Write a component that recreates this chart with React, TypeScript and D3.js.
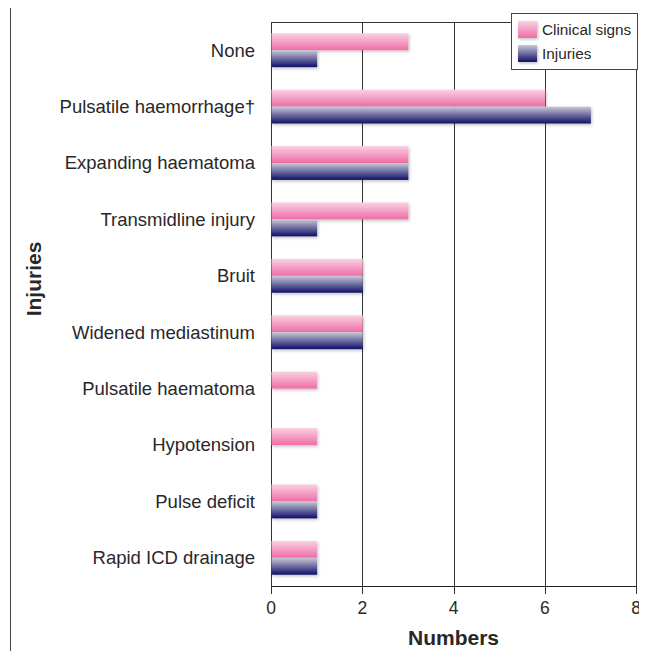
import React, { useRef, useEffect } from 'react';
import * as d3 from 'd3';

const categories = [
  'None',
  'Pulsatile haemorrhage†',
  'Expanding haematoma',
  'Transmidline injury',
  'Bruit',
  'Widened mediastinum',
  'Pulsatile haematoma',
  'Hypotension',
  'Pulse deficit',
  'Rapid ICD drainage',
];
const clinicalSigns = [3, 6, 3, 3, 2, 2, 1, 1, 1, 1];
const injuries = [1, 7, 3, 1, 2, 2, 0, 0, 1, 1];
const xTicks = [0, 2, 4, 6, 8];
const seriesNames = ['Clinical signs', 'Injuries'];

const W = 647;
const H = 659;
const FONT = 'Liberation Sans, Arial, Helvetica, sans-serif';
const TEXT = '#2a2728';

export default function App() {
  const svgRef = useRef<SVGSVGElement>(null);

  useEffect(() => {
    if (!svgRef.current) return;
    const svg = d3.select(svgRef.current);
    svg.selectAll('*').remove();

    const margin = { top: 22, right: 11, bottom: 73, left: 271 };
    const x = d3.scaleLinear().domain([0, 8]).range([margin.left, W - margin.right]);
    const y = d3.scaleBand<string>()
      .domain(categories)
      .range([margin.top, H - margin.bottom])
      .paddingInner(0.4)
      .paddingOuter(0.2);
    const sub = d3.scaleBand<string>().domain(seriesNames).range([0, y.bandwidth()]);

    const defs = svg.append('defs');
    const pink = defs.append('linearGradient').attr('id', 'gPink')
      .attr('x1', 0).attr('y1', 0).attr('x2', 0).attr('y2', 1);
    pink.append('stop').attr('offset', '0%').attr('stop-color', '#fad0e2');
    pink.append('stop').attr('offset', '100%').attr('stop-color', '#ee6ea7');
    const navy = defs.append('linearGradient').attr('id', 'gNavy')
      .attr('x1', 0).attr('y1', 0).attr('x2', 0).attr('y2', 1);
    navy.append('stop').attr('offset', '0%').attr('stop-color', '#c9c9d8');
    navy.append('stop').attr('offset', '100%').attr('stop-color', '#0f0f68');
    const shadow = defs.append('filter').attr('id', 'shadow')
      .attr('x', '-10%').attr('y', '-30%').attr('width', '130%').attr('height', '160%');
    shadow.append('feDropShadow').attr('dx', 1).attr('dy', 1.5)
      .attr('stdDeviation', 1.5).attr('flood-color', '#000').attr('flood-opacity', 0.25);

    // outer frame (top + left)
    svg.append('line').attr('x1', 10).attr('y1', 6.5).attr('x2', W).attr('y2', 6.5)
      .attr('stroke', '#444').attr('stroke-width', 1);
    svg.append('line').attr('x1', 10.5).attr('y1', 6).attr('x2', 10.5).attr('y2', H)
      .attr('stroke', '#444').attr('stroke-width', 1);

    const plotBottom = H - margin.bottom;

    // grid lines
    xTicks.forEach(t => {
      svg.append('line')
        .attr('x1', Math.round(x(t)) + 0.5).attr('x2', Math.round(x(t)) + 0.5)
        .attr('y1', margin.top).attr('y2', plotBottom + 8)
        .attr('stroke', '#333').attr('stroke-width', 1);
    });
    svg.append('line').attr('x1', x(0)).attr('x2', x(8))
      .attr('y1', margin.top + 0.5).attr('y2', margin.top + 0.5)
      .attr('stroke', '#333');

    // bars
    const series = [
      { name: seriesNames[0], values: clinicalSigns, fill: 'url(#gPink)' },
      { name: seriesNames[1], values: injuries, fill: 'url(#gNavy)' },
    ];
    series.forEach(s => {
      categories.forEach((c, i) => {
        const v = s.values[i];
        if (!v) return;
        svg.append('rect')
          .attr('x', x(0) + 0.5)
          .attr('y', (y(c) as number) + (sub(s.name) as number))
          .attr('width', x(v) - x(0))
          .attr('height', sub.bandwidth())
          .attr('fill', s.fill)
          .attr('filter', 'url(#shadow)');
      });
    });

    // x axis line
    svg.append('line').attr('x1', x(0)).attr('x2', x(8) + 1)
      .attr('y1', plotBottom + 0.5).attr('y2', plotBottom + 0.5)
      .attr('stroke', '#222').attr('stroke-width', 1.2);

    // tick labels
    xTicks.forEach(t => {
      svg.append('text')
        .attr('x', x(t)).attr('y', plotBottom + 28)
        .attr('text-anchor', 'middle')
        .attr('font-family', FONT).attr('font-size', 17.5).attr('fill', TEXT)
        .text(t);
    });

    // category labels
    categories.forEach(c => {
      svg.append('text')
        .attr('x', margin.left - 16)
        .attr('y', (y(c) as number) + y.bandwidth() / 2)
        .attr('dy', '0.35em')
        .attr('text-anchor', 'end')
        .attr('font-family', FONT).attr('font-size', 18.5).attr('fill', TEXT)
        .text(c);
    });

    // axis titles
    svg.append('text')
      .attr('x', (x(0) + x(8)) / 2).attr('y', plotBottom + 59)
      .attr('text-anchor', 'middle')
      .attr('font-family', FONT).attr('font-size', 21).attr('font-weight', 'bold')
      .attr('fill', TEXT)
      .text('Numbers');
    svg.append('text')
      .attr('transform', `translate(41, 279) rotate(-90)`)
      .attr('text-anchor', 'middle')
      .attr('font-family', FONT).attr('font-size', 21).attr('font-weight', 'bold')
      .attr('fill', TEXT)
      .text('Injuries');

    // legend
    const lg = svg.append('g').attr('transform', 'translate(511, 13)');
    lg.append('rect').attr('x', 0.5).attr('y', 0.5).attr('width', 126).attr('height', 56)
      .attr('fill', 'white').attr('stroke', '#444').attr('stroke-width', 1);
    series.forEach((s, i) => {
      lg.append('rect').attr('x', 7).attr('y', 8 + i * 24).attr('width', 19).attr('height', 17)
        .attr('fill', s.fill).attr('filter', 'url(#shadow)');
      lg.append('text').attr('x', 31).attr('y', 16.5 + i * 24).attr('dy', '0.35em')
        .attr('font-family', FONT).attr('font-size', 15.3).attr('fill', TEXT)
        .text(s.name);
    });
  }, []);

  return (
    <div style={{ width: W, height: H, margin: -8, background: 'white' }}>
      <svg ref={svgRef} width={W} height={H} style={{ display: 'block', overflow: 'visible' }}></svg>
    </div>
  );
}
